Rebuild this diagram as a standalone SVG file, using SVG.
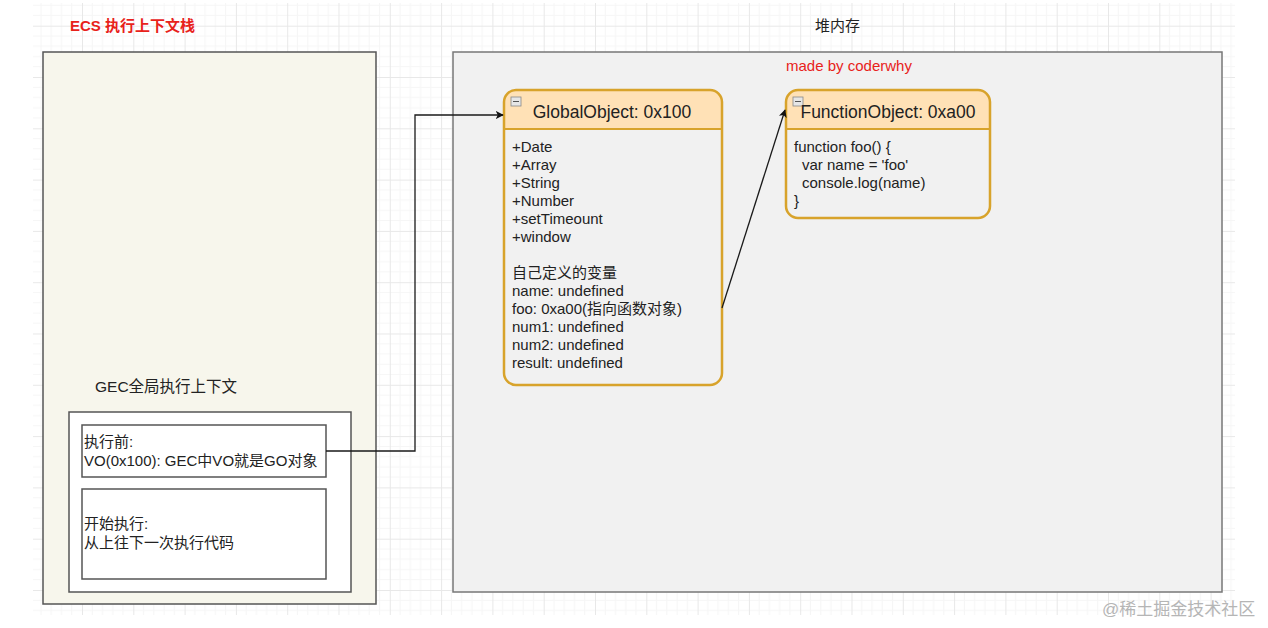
<svg xmlns="http://www.w3.org/2000/svg" width="1268" height="628" viewBox="0 0 1268 628">
<defs>
<pattern id="grid" patternUnits="userSpaceOnUse" x="30.7" y="25.7" width="51.3" height="51.3">
<path d="M10.26 0V51.3M20.52 0V51.3M30.78 0V51.3M41.04 0V51.3M0 10.26H51.3M0 20.52H51.3M0 30.78H51.3M0 41.04H51.3" stroke="#f6f6f6" stroke-width="1" fill="none"/>
<path d="M0.5 0V51.3M0 0.5H51.3" stroke="#e8e8e8" stroke-width="1" fill="none"/>
</pattern>
<marker id="arr" viewBox="0 0 10 10" refX="9" refY="5" markerWidth="8" markerHeight="8" markerUnits="userSpaceOnUse" orient="auto">
<path d="M0 0L10 5L0 10L2.5 5Z" fill="#111"/>
</marker>
<style>
text{font-family:"Liberation Sans","Noto Sans CJK SC",sans-serif;fill:#222;}
.body{font-size:15px;}
.title{font-size:17.5px;}
.red{fill:#e8221b;font-size:15px;}
.box{stroke:#555;stroke-width:1.5;}
.uml{fill:none;stroke:#d8a32b;stroke-width:2.5;}
.hdr{fill:#ffe1b6;}
.icon{fill:#e6e6e6;stroke:#888;stroke-width:0.8;}
.conn{fill:none;stroke:#1a1a1a;stroke-width:1.3;}
</style>
</defs>
<rect width="1268" height="628" fill="#ffffff"/>
<rect x="33" y="3" width="1202" height="612" fill="url(#grid)"/>

<g id="ecs-stack">
<text x="70" y="31" class="red" font-weight="bold">ECS 执行上下文栈</text>
<rect x="43" y="52" width="333" height="552" fill="#f7f6ec" class="box"/>
</g>

<g id="heap">
<text x="815" y="31" font-size="15">堆内存</text>
<rect x="453" y="52" width="769" height="540" fill="#f1f1f1" stroke="#777" stroke-width="1.5"/>
<text x="786" y="71" class="red">made by coderwhy</text>
</g>

<g id="gec">
<text x="95" y="392" font-size="15.5">GEC全局执行上下文</text>
<rect x="69" y="412" width="282" height="180" fill="#ffffff" class="box"/>
</g>

<g id="gec-before">
<rect x="82" y="425" width="244" height="52" fill="#ffffff" class="box"/>
<text x="84" y="447" class="body">执行前:</text>
<text x="84" y="466" class="body">VO(0x100): GEC中VO就是GO对象</text>
</g>

<g id="gec-exec">
<rect x="82" y="489" width="244" height="90" fill="#ffffff" class="box"/>
<text x="84" y="529" class="body">开始执行:</text>
<text x="84" y="548" class="body">从上往下一次执行代码</text>
</g>

<g id="global-object">
<path class="hdr" d="M504 129V102Q504 90 516 90H710Q722 90 722 102V129Z"/>
<rect x="504" y="90" width="218" height="295" rx="12" class="uml"/>
<line x1="504" y1="129" x2="722" y2="129" stroke="#d8a32b" stroke-width="2"/>
<rect x="511" y="97" width="10" height="9" class="icon"/>
<line x1="513" y1="101.5" x2="519" y2="101.5" stroke="#555" stroke-width="1"/>
<text x="612" y="118" class="title" text-anchor="middle">GlobalObject: 0x100</text>
<text x="512" y="152" class="body">+Date</text>
<text x="512" y="170" class="body">+Array</text>
<text x="512" y="188" class="body">+String</text>
<text x="512" y="206" class="body">+Number</text>
<text x="512" y="224" class="body">+setTimeount</text>
<text x="512" y="242" class="body">+window</text>
<text x="512" y="278" class="body">自己定义的变量</text>
<text x="512" y="296" class="body">name: undefined</text>
<text x="512" y="314" class="body">foo: 0xa00(指向函数对象)</text>
<text x="512" y="332" class="body">num1: undefined</text>
<text x="512" y="350" class="body">num2: undefined</text>
<text x="512" y="368" class="body">result: undefined</text>
</g>

<g id="function-object">
<path class="hdr" d="M786 129V102Q786 90 798 90H978Q990 90 990 102V129Z"/>
<rect x="786" y="90" width="204" height="128" rx="12" class="uml"/>
<line x1="786" y1="129" x2="990" y2="129" stroke="#d8a32b" stroke-width="2"/>
<rect x="793" y="97" width="10" height="9" class="icon"/>
<line x1="795" y1="101.5" x2="801" y2="101.5" stroke="#555" stroke-width="1"/>
<text x="888" y="118" class="title" text-anchor="middle">FunctionObject: 0xa00</text>
<text x="794" y="152" class="body">function foo() {</text>
<text x="802" y="170" class="body">var name = 'foo'</text>
<text x="802" y="188" class="body">console.log(name)</text>
<text x="794" y="206" class="body">}</text>
</g>

<g id="connectors">
<path class="conn" d="M326 451H415V115H503" marker-end="url(#arr)"/>
<path class="conn" d="M722 308L785 110" marker-end="url(#arr)"/>
</g>

<text x="1102" y="615" font-size="17" style="fill:#b5b5b5">@稀土掘金技术社区</text>
</svg>
